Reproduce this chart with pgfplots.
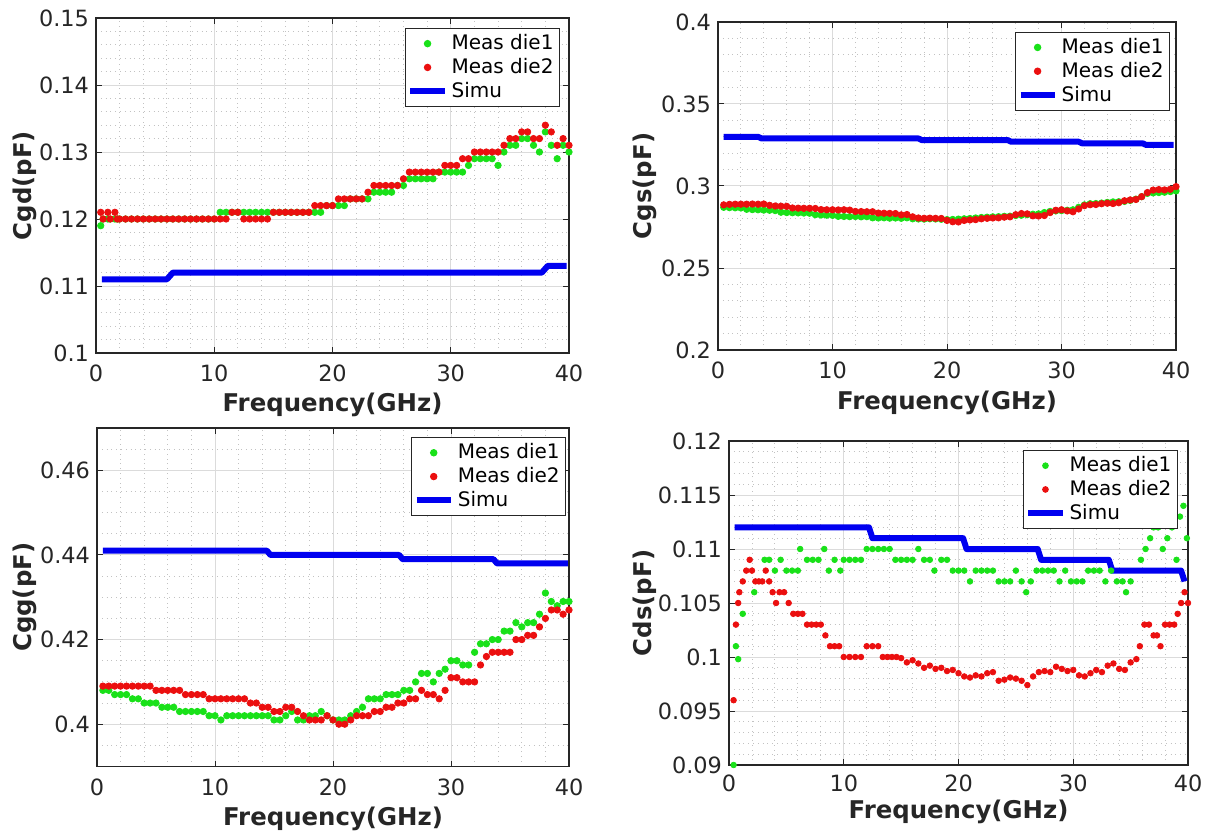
\documentclass[border=0pt]{standalone}
\usepackage{fontspec}
\setmainfont{DejaVu Sans}
\usepackage{pgfplots}
\usepackage{pgfplotstable}
\pgfplotsset{compat=1.18}

\definecolor{mgreen}{RGB}{25,225,25}
\definecolor{mred}{RGB}{235,15,15}
\definecolor{mblue}{RGB}{0,0,240}
\definecolor{maxis}{RGB}{38,38,38}

% Cgd
\pgfplotstableread{
x d1 d2
0.4 0.119 0.121
0.6 0.120 0.120
1.0 0.120 0.121
1.2 0.120 0.120
1.6 0.120 0.121
1.8 0.120 0.120
2.0 0.120 0.120
2.5 0.120 0.120
3.0 0.120 0.120
3.5 0.120 0.120
4.0 0.120 0.120
4.5 0.120 0.120
5.0 0.120 0.120
5.5 0.120 0.120
6.0 0.120 0.120
6.5 0.120 0.120
7.0 0.120 0.120
7.5 0.120 0.120
8.0 0.120 0.120
8.5 0.120 0.120
9.0 0.120 0.120
9.5 0.120 0.120
10.0 0.120 0.120
10.5 0.121 0.120
11.0 0.121 0.120
11.5 0.121 0.121
12.0 0.121 0.121
12.5 0.121 0.120
13.0 0.121 0.120
13.5 0.121 0.120
14.0 0.121 0.120
14.5 0.121 0.120
15.0 0.121 0.121
15.5 0.121 0.121
16.0 0.121 0.121
16.5 0.121 0.121
17.0 0.121 0.121
17.5 0.121 0.121
18.0 0.121 0.121
18.5 0.121 0.122
19.0 0.121 0.122
19.5 0.122 0.122
20.0 0.122 0.122
20.5 0.122 0.123
21.0 0.122 0.123
21.5 0.123 0.123
22.0 0.123 0.123
22.5 0.123 0.123
23.0 0.123 0.124
23.5 0.124 0.125
24.0 0.124 0.125
24.5 0.124 0.125
25.0 0.124 0.125
25.5 0.125 0.125
26.0 0.125 0.126
26.5 0.126 0.127
27.0 0.126 0.127
27.5 0.126 0.127
28.0 0.126 0.127
28.5 0.126 0.127
29.0 0.127 0.127
29.5 0.127 0.128
30.0 0.127 0.128
30.5 0.127 0.128
31.0 0.127 0.129
31.5 0.128 0.129
32.0 0.129 0.130
32.5 0.129 0.130
33.0 0.129 0.130
33.5 0.129 0.130
34.0 0.128 0.130
34.5 0.130 0.131
35.0 0.131 0.132
35.5 0.131 0.132
36.0 0.132 0.133
36.5 0.132 0.133
37.0 0.131 0.132
37.5 0.130 0.132
38.0 0.133 0.134
38.5 0.131 0.133
39.0 0.129 0.131
39.5 0.131 0.132
40.0 0.130 0.131
}\cgd

% Cgs
\pgfplotstableread{
x d1 d2
0.5 0.2870 0.2885
1.0 0.2868 0.2888
1.5 0.2867 0.2889
2.0 0.2866 0.2889
2.5 0.2858 0.2889
3.0 0.2856 0.2890
3.5 0.2855 0.2889
4.0 0.2853 0.2890
4.5 0.2852 0.2882
5.0 0.2850 0.2878
5.5 0.2840 0.2877
6.0 0.2838 0.2876
6.5 0.2837 0.2866
7.0 0.2836 0.2865
7.5 0.2835 0.2864
8.0 0.2834 0.2864
8.5 0.2825 0.2863
9.0 0.2823 0.2856
9.5 0.2822 0.2855
10.0 0.2821 0.2855
10.5 0.2815 0.2854
11.0 0.2814 0.2855
11.5 0.2813 0.2853
12.0 0.2814 0.2845
12.5 0.2812 0.2844
13.0 0.2813 0.2843
13.5 0.2806 0.2843
14.0 0.2805 0.2835
14.5 0.2806 0.2834
15.0 0.2804 0.2833
15.5 0.2805 0.2832
16.0 0.2803 0.2824
16.5 0.2806 0.2826
17.0 0.2800 0.2812
17.5 0.2799 0.2805
18.0 0.2798 0.2803
18.5 0.2800 0.2804
19.0 0.2799 0.2803
19.5 0.2797 0.2802
20.0 0.2795 0.2790
20.5 0.2796 0.2782
21.0 0.2798 0.2781
21.5 0.2800 0.2790
22.0 0.2802 0.2793
22.5 0.2805 0.2795
23.0 0.2808 0.2800
23.5 0.2810 0.2803
24.0 0.2812 0.2805
24.5 0.2813 0.2806
25.0 0.2815 0.2810
25.5 0.2816 0.2812
26.0 0.2820 0.2825
26.5 0.2822 0.2832
27.0 0.2825 0.2830
27.5 0.2828 0.2818
28.0 0.2830 0.2817
28.5 0.2838 0.2820
29.0 0.2845 0.2838
29.5 0.2848 0.2852
30.0 0.2850 0.2855
30.5 0.2852 0.2848
31.0 0.2855 0.2843
31.5 0.2870 0.2860
32.0 0.2885 0.2880
32.5 0.2892 0.2886
33.0 0.2893 0.2887
33.5 0.2896 0.2892
34.0 0.2900 0.2895
34.5 0.2903 0.2893
35.0 0.2904 0.2898
35.5 0.2906 0.2910
36.0 0.2912 0.2915
36.5 0.2920 0.2918
37.0 0.2935 0.2935
37.5 0.2955 0.2960
38.0 0.2958 0.2975
38.5 0.2960 0.2978
39.0 0.2962 0.2976
39.5 0.2966 0.2980
40.0 0.2970 0.2996
}\cgs

% Cgg
\pgfplotstableread{
x d1 d2
0.5 0.408 0.409
1.0 0.408 0.409
1.5 0.407 0.409
2.0 0.407 0.409
2.5 0.407 0.409
3.0 0.406 0.409
3.5 0.406 0.409
4.0 0.405 0.409
4.5 0.405 0.409
5.0 0.405 0.408
5.5 0.404 0.408
6.0 0.404 0.408
6.5 0.404 0.408
7.0 0.403 0.408
7.5 0.403 0.407
8.0 0.403 0.407
8.5 0.403 0.407
9.0 0.403 0.407
9.5 0.402 0.406
10.0 0.402 0.406
10.5 0.401 0.406
11.0 0.402 0.406
11.5 0.402 0.406
12.0 0.402 0.406
12.5 0.402 0.406
13.0 0.402 0.405
13.5 0.402 0.405
14.0 0.402 0.404
14.5 0.402 0.404
15.0 0.401 0.403
15.5 0.401 0.403
16.0 0.402 0.404
16.5 0.403 0.404
17.0 0.401 0.403
17.5 0.401 0.402
18.0 0.402 0.401
18.5 0.402 0.401
19.0 0.403 0.401
19.5 0.402 0.402
20.0 0.401 0.401
20.5 0.401 0.400
21.0 0.401 0.400
21.5 0.402 0.401
22.0 0.403 0.402
22.5 0.404 0.402
23.0 0.406 0.402
23.5 0.406 0.403
24.0 0.406 0.403
24.5 0.407 0.404
25.0 0.407 0.404
25.5 0.407 0.405
26.0 0.408 0.405
26.5 0.408 0.406
27.0 0.410 0.406
27.5 0.412 0.408
28.0 0.412 0.407
28.5 0.410 0.407
29.0 0.412 0.406
29.5 0.413 0.408
30.0 0.415 0.411
30.5 0.415 0.411
31.0 0.414 0.410
31.5 0.414 0.410
32.0 0.417 0.410
32.5 0.419 0.414
33.0 0.419 0.416
33.5 0.420 0.417
34.0 0.420 0.417
34.5 0.422 0.417
35.0 0.422 0.417
35.5 0.424 0.420
36.0 0.423 0.420
36.5 0.424 0.421
37.0 0.424 0.421
37.5 0.426 0.423
38.0 0.431 0.425
38.5 0.429 0.427
39.0 0.428 0.427
39.5 0.429 0.426
40.0 0.429 0.427
}\cgg

% Cds die1
\pgfplotstableread{
x y
0.4 0.090
0.6 0.101
0.8 0.0998
1.2 0.104
2.2 0.106
3.1 0.109
3.5 0.109
4.0 0.108
4.5 0.109
5.0 0.108
5.5 0.108
6.0 0.108
6.2 0.110
6.8 0.109
7.3 0.109
7.8 0.109
8.3 0.110
8.7 0.108
9.2 0.109
9.7 0.108
10.0 0.109
10.5 0.109
11.0 0.109
11.5 0.109
12.0 0.110
12.5 0.110
13.0 0.110
13.5 0.110
14.0 0.110
14.5 0.109
15.0 0.109
15.5 0.109
16.0 0.109
16.5 0.110
17.0 0.109
17.5 0.109
17.9 0.108
18.5 0.109
19.0 0.109
19.5 0.108
20.0 0.108
20.5 0.108
21.0 0.107
21.5 0.108
22.0 0.108
22.5 0.108
23.0 0.108
23.5 0.107
24.0 0.107
24.5 0.107
25.0 0.108
25.5 0.107
25.9 0.106
26.3 0.107
26.8 0.108
27.3 0.108
27.8 0.108
28.3 0.108
28.8 0.107
29.3 0.108
29.8 0.107
30.3 0.107
30.8 0.107
31.3 0.108
31.8 0.108
32.3 0.108
32.8 0.107
33.3 0.108
33.8 0.107
34.3 0.107
34.6 0.106
35.0 0.107
35.9 0.109
36.3 0.110
36.7 0.111
37.0 0.112
37.4 0.112
37.8 0.110
38.2 0.111
38.6 0.112
39.0 0.109
39.3 0.113
39.6 0.114
39.9 0.111
}\cdsa

% Cds die2
\pgfplotstableread{
x y
0.4 0.096
0.6 0.103
0.8 0.105
0.9 0.106
1.2 0.107
1.5 0.108
1.8 0.109
2.0 0.108
2.3 0.107
2.6 0.107
2.9 0.107
3.2 0.108
3.5 0.107
3.8 0.106
4.1 0.105
4.4 0.106
4.8 0.106
5.2 0.105
5.6 0.104
6.0 0.104
6.4 0.104
6.8 0.103
7.2 0.103
7.6 0.103
8.0 0.103
8.4 0.102
8.8 0.101
9.2 0.101
9.6 0.101
10.0 0.100
10.5 0.100
11.0 0.100
11.5 0.100
12.0 0.101
12.5 0.101
13.0 0.101
13.4 0.100
13.8 0.100
14.2 0.100
14.6 0.100
15.0 0.0999
15.5 0.0995
16.0 0.0997
16.5 0.0994
17.0 0.0990
17.5 0.0992
18.0 0.0989
18.5 0.0990
19.0 0.0987
19.5 0.0988
20.0 0.0985
20.5 0.0982
21.0 0.0981
21.5 0.0983
22.0 0.0982
22.5 0.0985
23.0 0.0986
23.5 0.0978
24.0 0.0979
24.5 0.0981
25.0 0.0980
25.5 0.0978
26.0 0.0974
26.5 0.0982
27.0 0.0986
27.5 0.0987
28.0 0.0986
28.5 0.0991
29.0 0.0989
29.5 0.0987
30.0 0.0988
30.5 0.0983
31.0 0.0982
31.5 0.0985
32.0 0.0988
32.5 0.0986
33.0 0.0992
33.5 0.0994
34.0 0.0989
34.5 0.0988
35.0 0.0995
35.5 0.0998
35.8 0.101
36.2 0.103
36.6 0.103
37.0 0.102
37.3 0.102
37.6 0.101
38.0 0.103
38.4 0.103
38.8 0.103
39.1 0.104
39.4 0.105
39.7 0.106
40.0 0.105
}\cdsb

\pgfplotsset{
  capax/.style={
    scale only axis,
    xmin=0, xmax=40,
    xtick={0,10,20,30,40},
    minor x tick num=4,
    grid=both,
    major grid style={draw=black!14, line width=0.5pt},
    minor grid style={draw=black!24, dotted, line width=0.45pt},
    axis line style={draw=maxis, line width=0.55pt},
    tick align=inside,
    major tick length=3pt,
    minor tick length=0pt,
    tick style={maxis, line width=0.5pt},
    scaled ticks=false,
    /pgf/number format/assume math mode=true,
    yticklabel style={/pgf/number format/fixed, /pgf/number format/precision=3},
    xticklabel style={yshift=-2.5pt},
    ticklabel style={font=\fontsize{11.2}{13}\selectfont, text=maxis},
    label style={font=\bfseries\fontsize{12.2}{14}\selectfont, text=maxis},
    xlabel={Frequency(GHz)},
    legend cell align=left,
    legend style={font=\fontsize{10}{12}\selectfont, draw=maxis, line width=0.5pt,
      fill=white, inner sep=1pt, row sep=-1.2pt, anchor=north east},
  },
  d1/.style={only marks, mark=*, mark size=1.6pt, mgreen, mark options={draw=mgreen, fill=mgreen}},
  d2/.style={only marks, mark=*, mark size=1.6pt, mred, mark options={draw=mred, fill=mred}},
  sim/.style={no marks, mblue, line width=3pt, line join=round},
}

\begin{document}
\begin{tikzpicture}
\useasboundingbox (0,0) rectangle (607pt,418pt);

% Cgd
\begin{axis}[capax,
  at={(48pt,241.5pt)}, anchor=south west,
  width=236.5pt, height=167.5pt,
  ymin=0.1, ymax=0.15,
  ytick={0.1,0.11,0.12,0.13,0.14,0.15},
  minor y tick num=4,
  ylabel={Cgd(pF)},
  xlabel style={at={(axis description cs:0.5,-0.154)}, anchor=center},
  ylabel style={at={(axis description cs:-0.150,0.5)}, anchor=center},
  legend style={at={(axis description cs:0.981,0.970)}},
]
\addplot[d1] table[x=x, y=d1] {\cgd};
\addlegendentry{Meas die1}
\addplot[d2] table[x=x, y=d2] {\cgd};
\addlegendentry{Meas die2}
\addplot[sim] coordinates {(0.5,0.111) (6.0,0.111) (6.5,0.112) (37.7,0.112) (38.2,0.113) (39.8,0.113)};
\addlegendentry{Simu}
\end{axis}

% Cgs
\begin{axis}[capax,
  at={(359pt,243pt)}, anchor=south west,
  width=229pt, height=164pt,
  ymin=0.2, ymax=0.4,
  ytick={0.2,0.25,0.3,0.35,0.4},
  minor y tick num=4,
  ylabel={Cgs(pF)},
  xlabel style={at={(axis description cs:0.5,-0.162)}, anchor=center},
  ylabel style={at={(axis description cs:-0.159,0.5)}, anchor=center},
  legend style={at={(axis description cs:0.987,0.970)}},
]
\addplot[d1] table[x=x, y=d1] {\cgs};
\addlegendentry{Meas die1}
\addplot[d2] table[x=x, y=d2] {\cgs};
\addlegendentry{Meas die2}
\addplot[sim] coordinates {(0.5,0.330) (3.5,0.330) (3.8,0.329) (17.5,0.329) (17.8,0.328) (25.3,0.328) (25.6,0.327) (31.5,0.327) (31.8,0.326) (37.1,0.326) (37.4,0.325) (39.8,0.325)};
\addlegendentry{Simu}
\end{axis}

% Cgg
\begin{axis}[capax,
  at={(48.5pt,34.75pt)}, anchor=south west,
  width=236pt, height=169.25pt,
  ymin=0.39, ymax=0.47,
  ytick={0.4,0.42,0.44,0.46},
  minor ytick={0.39,0.395,0.405,0.41,0.415,0.425,0.43,0.435,0.445,0.45,0.455,0.465,0.47},
  ylabel={Cgg(pF)},
  xlabel style={at={(axis description cs:0.5,-0.155)}, anchor=center},
  ylabel style={at={(axis description cs:-0.153,0.5)}, anchor=center},
  legend style={at={(axis description cs:0.994,0.973)}},
]
\addplot[d1] table[x=x, y=d1] {\cgg};
\addlegendentry{Meas die1}
\addplot[d2] table[x=x, y=d2] {\cgg};
\addlegendentry{Meas die2}
\addplot[sim] coordinates {(0.5,0.441) (14.4,0.441) (14.7,0.440) (25.6,0.440) (25.9,0.439) (33.6,0.439) (33.9,0.438) (39.9,0.438)};
\addlegendentry{Simu}
\end{axis}

% Cds
\begin{axis}[capax,
  at={(364.5pt,35.5pt)}, anchor=south west,
  width=229.5pt, height=162pt,
  ymin=0.09, ymax=0.12,
  ytick={0.09,0.095,0.1,0.105,0.11,0.115,0.12},
  minor y tick num=4,
  ylabel={Cds(pF)},
  xticklabel style={yshift=1pt},
  xlabel style={at={(axis description cs:0.5,-0.145)}, anchor=center},
  ylabel style={at={(axis description cs:-0.183,0.5)}, anchor=center},
  legend style={at={(axis description cs:0.978,0.972)}},
  d1/.append style={mark size=1.4pt},
  d2/.append style={mark size=1.4pt},
]
\addplot[d1] table[x=x, y=y] {\cdsa};
\addlegendentry{Meas die1}
\addplot[d2] table[x=x, y=y] {\cdsb};
\addlegendentry{Meas die2}
\addplot[sim] coordinates {(0.5,0.112) (12.2,0.112) (12.5,0.111) (20.4,0.111) (20.7,0.110) (26.9,0.110) (27.2,0.109) (33.1,0.109) (33.4,0.108) (39.4,0.108) (39.7,0.107)};
\addlegendentry{Simu}
\end{axis}
\end{tikzpicture}
\end{document}
